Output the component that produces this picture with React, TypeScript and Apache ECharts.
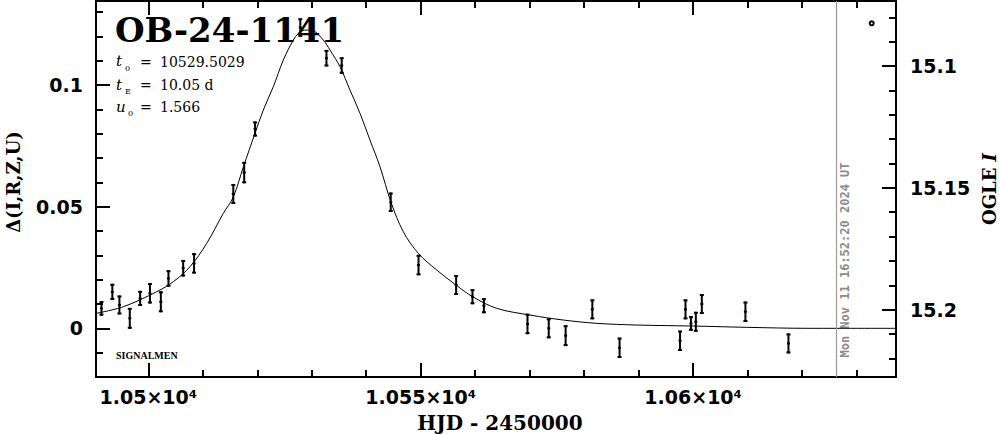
import React, { useEffect, useRef } from "react";
import * as echarts from "echarts";

// Observed points (HJD - 2450000, Δ flux, error)
const obsHJD = [
  10491.4, 10493.4, 10494.7, 10496.6, 10498.5, 10500.3, 10502.3, 10503.7, 10506.4, 10508.4,
  10515.6, 10517.6, 10519.6, 10527.9, 10532.7, 10535.5, 10544.5, 10549.6, 10556.5, 10559.5,
  10561.6, 10569.6, 10573.5, 10576.6, 10581.5, 10586.5, 10597.6, 10598.6, 10599.6, 10600.5,
  10601.6, 10609.6, 10617.5,
];
const obsDelta = [
  0.0082, 0.015, 0.0096, 0.0041, 0.0123, 0.0144, 0.0109, 0.0205, 0.0247, 0.0267,
  0.0552, 0.064, 0.0819, 0.1236, 0.111, 0.108, 0.0518, 0.026, 0.0178, 0.013,
  0.0093, 0.0018, 0.0, -0.003, 0.0078, -0.008, -0.0051, 0.0078, 0.002, 0.0027,
  0.01, 0.0068, -0.0062,
];
const obsErr = [
  0.003, 0.0033, 0.0039, 0.0043, 0.0031, 0.0042, 0.0043, 0.0034, 0.0034, 0.0042,
  0.0041, 0.0044, 0.0031, 0.0038, 0.0034, 0.0034, 0.004, 0.0042, 0.0041, 0.0031,
  0.0031, 0.0042, 0.0041, 0.0043, 0.0041, 0.0042, 0.0042, 0.0041, 0.003, 0.0041,
  0.0041, 0.0042, 0.0041,
];

// Model curve
const modelHJD = [
  10490.4, 10495.41, 10501.54, 10504.59, 10507.65, 10510.72, 10513.77, 10515.6, 10517.44, 10519.58,
  10521.11, 10522.94, 10524.78, 10526.61, 10527.53, 10528.16, 10529.22, 10530.29, 10532.12, 10533.35,
  10535.19, 10537.02, 10538.86, 10540.69, 10542.53, 10544.55, 10546.81, 10549.56, 10552.94, 10556.48,
  10559.54, 10563.95, 10570.06, 10576.17, 10582.3, 10589.65, 10600.04, 10609.84, 10621.46, 10637.24,
];
const modelDelta = [
  0.00616, 0.00887, 0.01504, 0.01915, 0.02531, 0.03492, 0.04725, 0.05394, 0.06627, 0.08012,
  0.08969, 0.09926, 0.11023, 0.11845, 0.1212, 0.12227, 0.12256, 0.12227, 0.11845, 0.11434,
  0.10748, 0.0979, 0.08833, 0.07736, 0.06639, 0.05177, 0.03969, 0.03081, 0.02395, 0.01779,
  0.01298, 0.00822, 0.00546, 0.00341, 0.00205, 0.00136, 0.00094, 0.00041, 0.0, 0.0,
];

const xMajorTicks = [10500, 10550, 10600];
const xTickLabels = ["1.05×10⁴", "1.055×10⁴", "1.06×10⁴"];
const xMinorTicks = [10510, 10520, 10530, 10540, 10560, 10570, 10580, 10590, 10610, 10620, 10630];

const yMajorTicks = [0, 0.05, 0.1];
const yTickLabels = ["0", "0.05", "0.1"];
const yMinorTicks = [-0.01, 0.01, 0.02, 0.03, 0.04, 0.06, 0.07, 0.08, 0.09, 0.11, 0.12, 0.13];

const magMajorTicks = [15.1, 15.15, 15.2];
const magTickLabels = ["15.1", "15.15", "15.2"];
const magMinorTicks = [15.08, 15.09, 15.11, 15.12, 15.13, 15.14, 15.16, 15.17, 15.18, 15.19, 15.21, 15.22];

const dateLineHJD = 10626.2;

const X_MIN = 10490.4;
const X_MAX = 10637.24;
const Y_MIN = -0.02;
const Y_MAX = 0.1345;
const M_MIN = 15.0732;
const M_MAX = 15.2277;

function pickLabel(values: number[], labels: string[], v: number) {
  let best = 0;
  for (let i = 1; i < values.length; i++) {
    if (Math.abs(values[i] - v) < Math.abs(values[best] - v)) best = i;
  }
  return labels[best];
}

export default function App() {
  const ref = useRef<HTMLDivElement>(null);

  useEffect(() => {
    if (!ref.current) return;
    const chart = echarts.init(ref.current, null, { renderer: "svg" });

    const black = "#000";
    const majorTick = { show: true, inside: true, length: 14, lineStyle: { color: black, width: 2 } };
    const minorTick = { show: true, inside: true, length: 7, lineStyle: { color: black, width: 2 } };
    const frameLine = { show: true, onZero: false, lineStyle: { color: black, width: 2 } };
    const noLine = { show: false, onZero: false };
    const tickFont = { color: black, fontFamily: "DejaVu Sans", fontWeight: "bold", fontSize: 19 };

    const xBase = { type: "value", min: X_MIN, max: X_MAX, splitLine: { show: false } };
    const yBase = { type: "value", min: Y_MIN, max: Y_MAX, splitLine: { show: false } };
    const mBase = { type: "value", min: M_MIN, max: M_MAX, inverse: true, splitLine: { show: false } };

    const option: any = {
      animation: false,
      backgroundColor: "#fff",
      grid: { left: 96, right: 103, top: 1, bottom: 57, containLabel: false },
      xAxis: [
        {
          ...xBase,
          position: "bottom",
          axisLine: frameLine,
          axisTick: { ...majorTick, customValues: xMajorTicks },
          axisLabel: {
            show: true,
            customValues: xMajorTicks,
            margin: 10,
            ...tickFont,
            formatter: (v: number) => pickLabel(xMajorTicks, xTickLabels, v),
          },
        },
        {
          ...xBase,
          position: "bottom",
          axisLine: noLine,
          axisTick: { ...minorTick, customValues: xMinorTicks },
          axisLabel: { show: false },
        },
        {
          ...xBase,
          position: "top",
          axisLine: frameLine,
          axisTick: { ...majorTick, customValues: xMajorTicks },
          axisLabel: { show: false },
        },
        {
          ...xBase,
          position: "top",
          axisLine: noLine,
          axisTick: { ...minorTick, customValues: xMinorTicks },
          axisLabel: { show: false },
        },
      ],
      yAxis: [
        {
          ...yBase,
          position: "left",
          axisLine: frameLine,
          axisTick: { ...majorTick, customValues: yMajorTicks },
          axisLabel: {
            show: true,
            customValues: yMajorTicks,
            margin: 13,
            ...tickFont,
            formatter: (v: number) => pickLabel(yMajorTicks, yTickLabels, v),
          },
        },
        {
          ...yBase,
          position: "left",
          axisLine: noLine,
          axisTick: { ...minorTick, customValues: yMinorTicks },
          axisLabel: { show: false },
        },
        {
          ...mBase,
          position: "right",
          axisLine: frameLine,
          axisTick: { ...majorTick, customValues: magMajorTicks },
          axisLabel: {
            show: true,
            customValues: magMajorTicks,
            margin: 14,
            ...tickFont,
            formatter: (v: number) => pickLabel(magMajorTicks, magTickLabels, v),
          },
        },
        {
          ...mBase,
          position: "right",
          axisLine: noLine,
          axisTick: { ...minorTick, customValues: magMinorTicks },
          axisLabel: { show: false },
        },
      ],
      series: [
        {
          type: "line",
          name: "model",
          xAxisIndex: 0,
          yAxisIndex: 0,
          data: modelHJD.map((x, i) => [x, modelDelta[i]]),
          showSymbol: false,
          smooth: 0.35,
          lineStyle: { color: black, width: 1 },
          clip: true,
          silent: true,
          markLine: {
            silent: true,
            symbol: ["none", "none"],
            label: { show: false },
            lineStyle: { color: "#9a9a9a", width: 1.2, type: "solid" },
            data: [{ xAxis: dateLineHJD }],
          },
        },
        {
          type: "custom",
          name: "data",
          xAxisIndex: 0,
          yAxisIndex: 0,
          clip: true,
          data: obsHJD.map((x, i) => [x, obsDelta[i], obsErr[i]]),
          encode: { x: 0, y: 1 },
          renderItem: (params: any, api: any) => {
            const x = api.value(0);
            const y = api.value(1);
            const e = api.value(2);
            const top = api.coord([x, y + e]);
            const bot = api.coord([x, y - e]);
            const mid = api.coord([x, y]);
            const style = { stroke: black, lineWidth: 2 };
            return {
              type: "group",
              children: [
                { type: "line", shape: { x1: top[0], y1: top[1], x2: bot[0], y2: bot[1] }, style },
                { type: "line", shape: { x1: top[0] - 2, y1: top[1] + 1, x2: top[0] + 2, y2: top[1] + 1 }, style },
                { type: "line", shape: { x1: bot[0] - 2, y1: bot[1] - 1, x2: bot[0] + 2, y2: bot[1] - 1 }, style },
                { type: "line", shape: { x1: mid[0] - 1.5, y1: mid[1], x2: mid[0] + 1.5, y2: mid[1] }, style },
              ],
            };
          },
        },
      ],
      graphic: [
        {
          type: "text",
          x: 115,
          y: 30,
          style: {
            text: "OB-24-1141",
            fill: black,
            font: "bold 34px 'DejaVu Serif'",
            align: "left",
            verticalAlign: "middle",
          },
        },
        // t0
        { type: "text", x: 116, y: 61, style: { text: "t", fill: black, font: "italic 15px 'DejaVu Serif'", verticalAlign: "middle" } },
        { type: "text", x: 125, y: 68.5, style: { text: "0", fill: black, font: "8px 'DejaVu Serif'", verticalAlign: "middle" } },
        { type: "text", x: 140, y: 61.5, style: { text: "=", fill: black, font: "14px 'DejaVu Serif'", verticalAlign: "middle" } },
        { type: "text", x: 160, y: 61.5, style: { text: "10529.5029", fill: black, font: "14px 'DejaVu Serif'", verticalAlign: "middle" } },
        // tE
        { type: "text", x: 116, y: 84.5, style: { text: "t", fill: black, font: "italic 15px 'DejaVu Serif'", verticalAlign: "middle" } },
        { type: "text", x: 125, y: 91.5, style: { text: "E", fill: black, font: "8px 'DejaVu Serif'", verticalAlign: "middle" } },
        { type: "text", x: 140, y: 85, style: { text: "=", fill: black, font: "14px 'DejaVu Serif'", verticalAlign: "middle" } },
        { type: "text", x: 160, y: 85, style: { text: "10.05 d", fill: black, font: "14px 'DejaVu Serif'", verticalAlign: "middle" } },
        // u0
        { type: "text", x: 116, y: 107, style: { text: "u", fill: black, font: "italic 15px 'DejaVu Serif'", verticalAlign: "middle" } },
        { type: "text", x: 128, y: 113.5, style: { text: "0", fill: black, font: "8px 'DejaVu Serif'", verticalAlign: "middle" } },
        { type: "text", x: 140, y: 107, style: { text: "=", fill: black, font: "14px 'DejaVu Serif'", verticalAlign: "middle" } },
        { type: "text", x: 160, y: 107, style: { text: "1.566", fill: black, font: "14px 'DejaVu Serif'", verticalAlign: "middle" } },
        // signature
        { type: "text", x: 116, y: 355, style: { text: "SIGNALMEN", fill: black, font: "bold 10px 'Liberation Serif'", verticalAlign: "middle" } },
        // axis titles
        {
          type: "text",
          x: 13,
          y: 182,
          rotation: Math.PI / 2,
          style: { text: "Δ(I,R,Z,U)", fill: black, font: "bold 18px 'DejaVu Serif'", align: "center", verticalAlign: "middle" },
        },
        {
          type: "text",
          x: 989,
          y: 189,
          rotation: Math.PI / 2,
          style: {
            text: "{a|OGLE }{b|I}",
            align: "center",
            verticalAlign: "middle",
            rich: {
              a: { fill: black, font: "bold 18px 'DejaVu Serif'" },
              b: { fill: black, font: "bold italic 18px 'DejaVu Serif'" },
            },
          },
        },
        {
          type: "text",
          x: 500,
          y: 423,
          style: { text: "HJD - 2450000", fill: black, font: "bold 20px 'DejaVu Serif'", align: "center", verticalAlign: "middle" },
        },
        // date stamp
        {
          type: "text",
          x: 845,
          y: 260,
          rotation: Math.PI / 2,
          style: {
            text: "Mon Nov 11 16:52:20 2024 UT",
            fill: "#8c8c8c",
            font: "bold 12px 'DejaVu Sans Mono'",
            align: "center",
            verticalAlign: "middle",
          },
        },
        // legend marker
        {
          type: "circle",
          shape: { cx: 871.7, cy: 23.3, r: 2 },
          style: { fill: "#fff", stroke: black, lineWidth: 2 },
        },
      ],
    };

    chart.setOption(option);
    return () => chart.dispose();
  }, []);

  return (
    <div
      ref={ref}
      style={{ position: "absolute", left: 0, top: 0, width: 999, height: 434, background: "#fff" }}
    />
  );
}
